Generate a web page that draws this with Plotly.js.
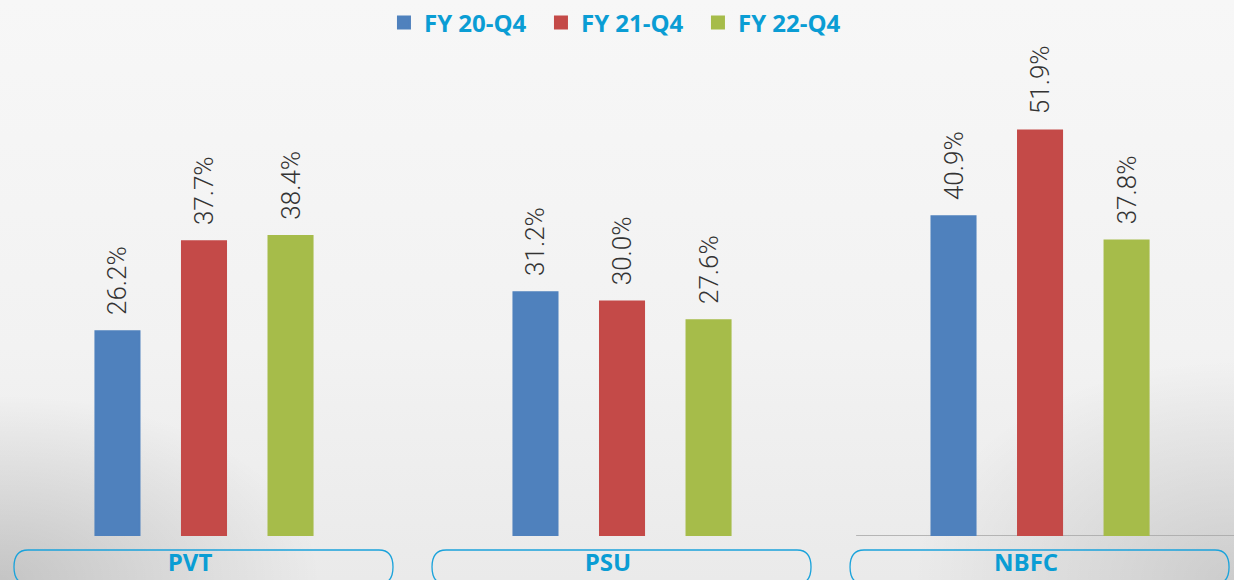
<!DOCTYPE html>
<html>
<head>
<meta charset="utf-8">
<script src="https://cdn.plot.ly/plotly-3.0.1.min.js"></script>
<style>
html, body { margin: 0; padding: 0; }
body {
  width: 1234px; height: 580px; overflow: hidden;
  background:
    radial-gradient(ellipse 26% 32% at 0% 100%, rgba(0,0,0,0.16), rgba(0,0,0,0) 100%),
    radial-gradient(ellipse 26% 38% at 100% 100%, rgba(0,0,0,0.13), rgba(0,0,0,0) 100%),
    linear-gradient(180deg, #f7f7f7 0%, #f2f2f2 60%, #eaeaea 100%);
}
#chart { width: 1234px; height: 580px; }
</style>
</head>
<body>
<div id="chart"></div>
<script>
const categories = ['PVT', 'PSU', 'NBFC'];
const seriesNames = ['FY 20-Q4', 'FY 21-Q4', 'FY 22-Q4'];
const fy20 = [26.2, 31.2, 40.9];
const fy21 = [37.7, 30.0, 51.9];
const fy22 = [38.4, 27.6, 37.8];
const colors = ['#4f81bd', '#c44a48', '#a6bc4a'];

const seriesValues = [fy20, fy21, fy22];
const traces = seriesValues.map((vals, i) => ({
  type: 'bar',
  name: seriesNames[i],
  x: categories,
  y: vals,
  marker: { color: colors[i], line: { color: colors[i], width: 2 } },
  text: vals.map(v => '\u2002' + v.toFixed(1) + '%'),
  textposition: 'outside',
  textangle: -90,
  constraintext: 'none',
  cliponaxis: false,
  textfont: { family: 'Roboto, sans-serif', size: 26, color: '#333333', weight: 300 },
  hoverinfo: 'skip'
}));

function pill(idx) {
  const l = -190, r = 189, t = -14, b = -48, rx = 14, ry = 17;
  return {
    type: 'path', xref: 'x', yref: 'paper',
    xsizemode: 'pixel', ysizemode: 'pixel',
    xanchor: idx, yanchor: 0,
    path: `M ${l + rx},${t} L ${r - rx},${t} Q ${r},${t} ${r},${t - ry} Q ${r},${b} ${r - rx},${b} L ${l + rx},${b} Q ${l},${b} ${l},${t - ry} Q ${l},${t} ${l + rx},${t} Z`,
    line: { color: '#1ba3db', width: 1.3 },
    fillcolor: 'rgba(0,0,0,0)',
    layer: 'below'
  };
}

const layout = {
  width: 1234, height: 580,
  margin: { l: 0, r: 0, t: 0, b: 44 },
  paper_bgcolor: 'rgba(0,0,0,0)',
  plot_bgcolor: 'rgba(0,0,0,0)',
  barmode: 'group',
  bargap: 0.379,
  bargroupgap: 0.491,
  showlegend: true,
  legend: {
    orientation: 'h', x: 0.502, xanchor: 'center', y: 1.005, yanchor: 'top',
    bgcolor: 'rgba(0,0,0,0)',
    entrywidth: 112, entrywidthmode: 'pixels',
    font: { family: 'Open Sans, sans-serif', size: 24, color: '#0a9dd4', weight: 'bold' },
    itemclick: false, itemdoubleclick: false
  },
  xaxis: {
    type: 'category',
    range: [-0.488, 2.464],
    showgrid: false, zeroline: false, showline: false,
    ticks: '', ticklabelstandoff: 10, ticklabelshift: -14,
    tickfont: { family: 'Open Sans, sans-serif', size: 24, color: '#0a9dd4', weight: 'bold' },
    fixedrange: true
  },
  yaxis: {
    range: [0, 68.2],
    visible: false, showgrid: false, zeroline: false,
    fixedrange: true
  },
  shapes: [
    pill(0), pill(1), pill(2),
    { type: 'line', xref: 'x', yref: 'y', x0: 1.56, x1: 2.47, y0: 0, y1: 0,
      line: { color: '#a3a3a3', width: 1.5 }, layer: 'below' }
  ]
};

Plotly.newPlot('chart', traces, layout, { displayModeBar: false, staticPlot: true });
</script>
</body>
</html>
